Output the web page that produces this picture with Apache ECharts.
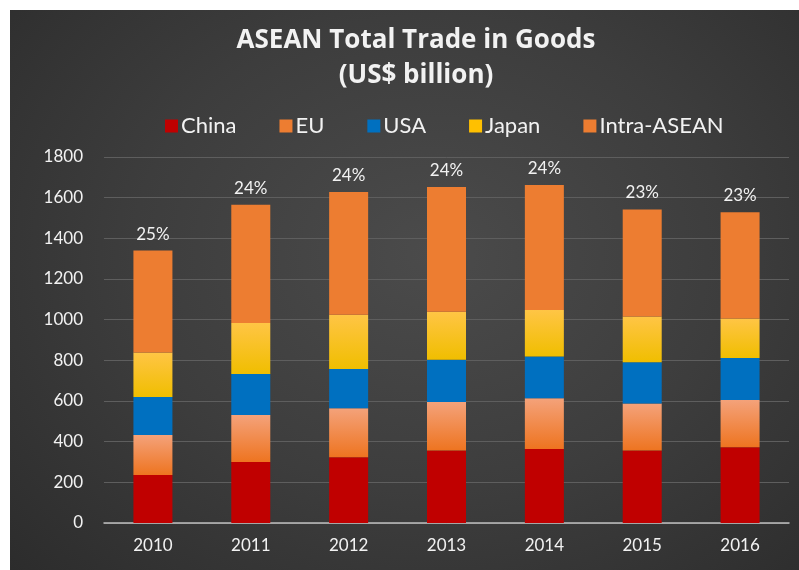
<!DOCTYPE html>
<html><head><meta charset="utf-8">
<script src="https://cdn.jsdelivr.net/npm/echarts@6/dist/echarts.min.js"></script>
<style>
html,body{margin:0;padding:0;background:#2c2c2c;overflow:hidden;}
#bg{position:fixed;left:10px;top:10px;right:-20px;bottom:-20px;background:radial-gradient(ellipse at 52% 42%, #4b4b4b 0%, #3d3d3d 50%, #2b2b2b 100%);}
#sl{position:fixed;left:0;top:0;width:10px;bottom:0;background:#fff;}
#st{position:fixed;left:0;top:0;height:10px;right:0;background:#fff;}
#chart{position:absolute;left:0;top:0;width:799px;height:570px;}
</style></head>
<body>
<div id="bg"></div><div id="sl"></div><div id="st"></div><div id="chart"></div>
<script>
const years = ['2010','2011','2012','2013','2014','2015','2016'];
const china = [236, 300, 323, 356, 364, 356, 372];
const eu = [197, 231, 241, 239, 249, 232, 233];
const usa = [187, 202, 193, 208, 206, 202, 206];
const japan = [218, 251, 267, 236, 229, 225, 195];
const intra = [502, 581, 604, 613, 614, 527, 522];
const pctLabels = ['25%','24%','24%','24%','24%','23%','23%'];
const yTicks = [0,200,400,600,800,1000,1200,1400,1600,1800];

const font = 'Lato, "Open Sans", sans-serif';
const titleFont = '"Open Sans", Lato, sans-serif';
const chart = echarts.init(document.getElementById('chart'), null, {renderer:'canvas'});
function grad(top, bottom){
  return new echarts.graphic.LinearGradient(0,0,0,1,[{offset:0,color:top},{offset:1,color:bottom}]);
}
const barW = 39;
function ser(name, data, color, extra){
  return Object.assign({
    name, type:'bar', stack:'t', data, barWidth:barW,
    itemStyle:{color}, emphasis:{disabled:true}
  }, extra||{});
}
chart.setOption({
  backgroundColor:'transparent',
  animation:false,
  title:{
    text:'ASEAN Total Trade in Goods\n(US$ billion)',
    left:411, top:18, textAlign:'center',
    textStyle:{color:'#f2f2f2', fontSize:26, fontWeight:'bold', fontFamily:titleFont, lineHeight:35}
  },
  legend:{
    top:110, left:160,
    itemWidth:13, itemHeight:13, itemGap:43,
    icon:'rect',
    textStyle:{color:'#f2f2f2', fontSize:22, fontFamily:font, padding:[0,0,0,-2]},
    data:[
      {name:'China', itemStyle:{color:'#C00000'}},
      {name:'EU', itemStyle:{color:'#ED7D31'}},
      {name:'USA', itemStyle:{color:'#0070C0'}},
      {name:'Japan', itemStyle:{color:'#FFC000'}},
      {name:'Intra-ASEAN', itemStyle:{color:'#ED7D31'}}
    ]
  },
  grid:{left:104, right:10, top:157, bottom:47, containLabel:false},
  xAxis:{
    type:'category', data:years,
    axisLine:{lineStyle:{color:'#bfbfbf', width:1.5}},
    axisTick:{show:false},
    axisLabel:{color:'#f2f2f2', fontSize:17, fontFamily:font, margin:14}
  },
  yAxis:{
    type:'value', min:0, max:1800, interval:200,
    axisLine:{show:false}, axisTick:{show:false},
    splitLine:{lineStyle:{color:'#5e5e5e', width:1}},
    axisLabel:{color:'#f2f2f2', fontSize:17, fontFamily:font, margin:21,
      formatter:v=>yTicks.includes(v)?String(v):''}
  },
  series:[
    ser('China', china, '#C00000'),
    ser('EU', eu, grad('#F4A27A','#EE7420')),
    ser('USA', usa, '#0070C0'),
    ser('Japan', japan, grad('#FFC545','#F0BE00')),
    ser('Intra-ASEAN', intra, '#ED7D31', {
      label:{show:true, position:'top', distance:8, color:'#f2f2f2', fontSize:17, fontFamily:font,
        formatter:p=>pctLabels[p.dataIndex]}
    })
  ]
});
</script>
</body></html>
